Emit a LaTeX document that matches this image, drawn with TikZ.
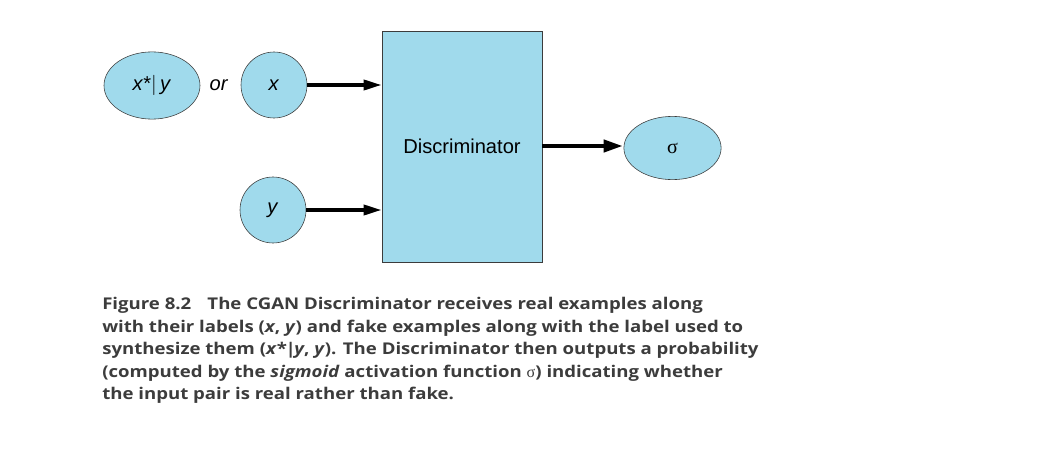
\documentclass[tikz,border=0pt]{standalone}
\usepackage{fontspec}
\usepackage{tikz}
\usetikzlibrary{shapes.geometric, arrows.meta}
\setmainfont{Liberation Sans}
\newfontfamily\capfont{Open Sans}[FakeStretch=1.15]
\newfontfamily\sigfont{Liberation Serif}
\definecolor{nodeblue}{RGB}{160,218,236}
\definecolor{edgegray}{RGB}{60,60,60}

\begin{document}
\begin{tikzpicture}[x=0.025cm, y=-0.025cm,
  every node/.style={fill=nodeblue, draw=edgegray, thin, font=\fontsize{14.3}{17}\selectfont, inner sep=0pt},
  inbox/.style={ellipse, minimum width=2.4cm, minimum height=1.68cm},
  incircle/.style={circle, minimum size=1.65cm},
  feed/.style={-{Triangle[length=0.45cm, width=0.25cm]}, line width=2.5pt, black},
  outfeed/.style={-{Triangle[length=0.5cm, width=0.29cm]}, line width=3.5pt, black}]
\useasboundingbox (0,0) rectangle (1057,453);
\node[inbox] (xstar) at (152, 85.5) {\textit{x}*$|$\,\textit{y}};
\node[draw=none, fill=none] (or) at (219, 85) {\textit{or}};
\node[incircle] (x) at (274, 85) {\textit{x}};
\node[incircle] (y) at (273, 210) {\textit{y}};
\node[rectangle, minimum width=4cm, minimum height=5.775cm] (disc) at (462, 146.5) {Discriminator};
\node[ellipse, minimum width=2.43cm, minimum height=1.58cm] (sigma) at (672.5, 148) {\sigfont σ};
\draw[feed] (x) -- (x -| disc.west);
\draw[feed] (y) -- (y -| disc.west);
\draw[outfeed] (disc.east |- 0,146) -- (sigma.west |- 0,146);
%% caption
\node[draw=none, fill=none, anchor=north west, align=left, text=edgegray,
  font=\capfont\bfseries\fontsize{11.5}{16}\selectfont] (caption) at (102, 297)
  {Figure 8.2\hspace{1em}The CGAN Discriminator receives real examples along\\
   with their labels (\textit{x}, \textit{y}) and fake examples along with the label used to\\
   synthesize them (\textit{x}*\kern-1pt|\kern-1pt\textit{y}, \textit{y}). The Discriminator then outputs a probability\\
   (computed by the \textit{sigmoid} activation function {\sigfont\mdseries σ}) indicating whether\\
   the input pair is real rather than fake.};
\end{tikzpicture}
\end{document}
